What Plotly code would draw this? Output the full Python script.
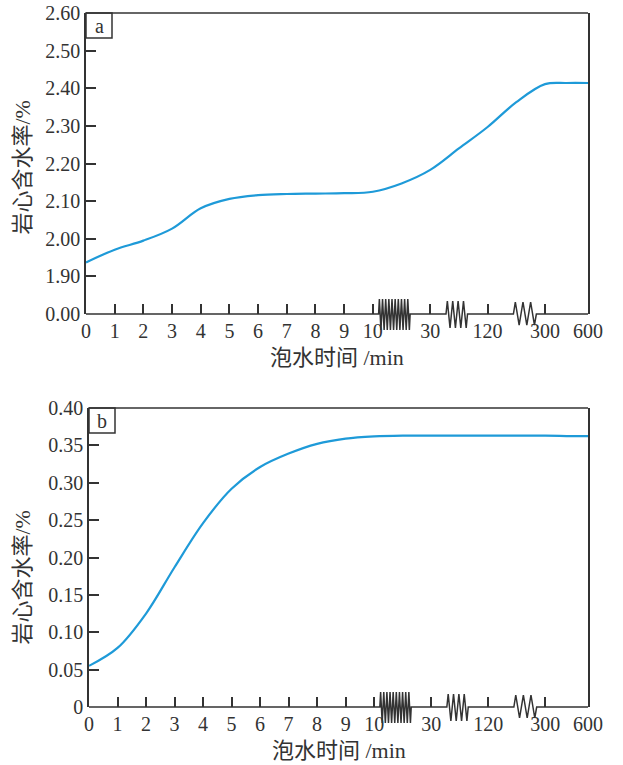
import numpy as np
import plotly.graph_objects as go

# ---------------- data ----------------
minutes = [0, 1, 2, 3, 4, 5, 6, 7, 8, 9, 10, 20, 30, 75, 120, 210, 300, 450, 600]
water_a = [1.937, 1.971, 1.995, 2.027, 2.081, 2.106, 2.116, 2.119, 2.120, 2.121, 2.125,
           2.147, 2.183, 2.240, 2.297, 2.363, 2.411, 2.414, 2.414]
water_b = [0.055, 0.079, 0.125, 0.187, 0.246, 0.292, 0.321, 0.339, 0.352, 0.359, 0.362,
           0.363, 0.363, 0.363, 0.363, 0.363, 0.363, 0.3625, 0.3625]

x_tick_minutes = [0, 1, 2, 3, 4, 5, 6, 7, 8, 9, 10, 30, 120, 300, 600]
x_tick_labels = ["0", "1", "2", "3", "4", "5", "6", "7", "8", "9", "10", "30", "120", "300", "600"]
a_tick_values = [0.00, 1.90, 2.00, 2.10, 2.20, 2.30, 2.40, 2.50, 2.60]
a_tick_labels = ["0.00", "1.90", "2.00", "2.10", "2.20", "2.30", "2.40", "2.50", "2.60"]
b_tick_values = [0, 0.05, 0.10, 0.15, 0.20, 0.25, 0.30, 0.35, 0.40]
b_tick_labels = ["0", "0.05", "0.10", "0.15", "0.20", "0.25", "0.30", "0.35", "0.40"]

# ---------------- broken-axis scales ----------------
X_ANCH_MIN = [0, 10, 30, 120, 300, 600]
X_ANCH_POS = [0, 10, 12, 14, 16, 17.5]


def xpos(m):
    return np.interp(m, X_ANCH_MIN, X_ANCH_POS)


def ypos_a(v):
    return np.interp(v, [0.0, 1.90, 2.60], [0, 1, 8])


W, H = 623, 765
LINE = "#333333"
TXT = "#333333"
BLUE = "#1e9ad8"
SERIF = "Liberation Serif, Noto Sans CJK SC"

dom_a = dict(x=[86 / W, 588 / W], y=[1 - 314 / H, 1 - 13 / H])
dom_b = dict(x=[89 / W, 588 / W], y=[1 - 707 / H, 1 - 408 / H])

fig = go.Figure()
fig.add_trace(go.Scatter(x=xpos(minutes), y=ypos_a(water_a), mode="lines",
                         line=dict(color=BLUE, width=2.2, shape="spline", smoothing=1.0),
                         xaxis="x", yaxis="y", showlegend=False, hoverinfo="skip"))
fig.add_trace(go.Scatter(x=xpos(minutes), y=water_b, mode="lines",
                         line=dict(color=BLUE, width=2.2, shape="spline", smoothing=1.0),
                         xaxis="x2", yaxis="y2", showlegend=False, hoverinfo="skip"))

xaxis_common = dict(range=[0, 17.5], tickvals=list(xpos(x_tick_minutes)), ticktext=x_tick_labels,
                    ticks="inside", ticklen=10, tickwidth=1.5, tickcolor=LINE, automargin=False,
                    showline=False, showgrid=False, zeroline=False, fixedrange=True,
                    tickfont=dict(family=SERIF, size=20, color=TXT), ticklabelstandoff=3)
yaxis_common = dict(ticks="inside", ticklen=10, tickwidth=1.5, tickcolor=LINE, automargin=False,
                    showline=True, linecolor=LINE, linewidth=1.5, mirror=True,
                    showgrid=False, zeroline=False, fixedrange=True,
                    tickfont=dict(family=SERIF, size=20, color=TXT))

fig.update_layout(
    width=W, height=H, margin=dict(l=0, r=0, t=0, b=0, pad=0, autoexpand=False),
    paper_bgcolor="white", plot_bgcolor="white",
    xaxis=dict(domain=dom_a["x"], anchor="y", **xaxis_common),
    yaxis=dict(domain=dom_a["y"], anchor="x", range=[0, 8],
               tickvals=list(ypos_a(a_tick_values)), ticktext=a_tick_labels, **yaxis_common),
    xaxis2=dict(domain=dom_b["x"], anchor="y2", **xaxis_common),
    yaxis2=dict(domain=dom_b["y"], anchor="x2", range=[0, 0.40],
                tickvals=b_tick_values, ticktext=b_tick_labels, **yaxis_common),
)

# ---------------- axis decorations (broken x axis, frame, panel tags) ----------------
BREAKS = [(10.2, 11.3, 10, 15, 16), (12.55, 13.3, 4, 13, 14), (14.9, 15.7, 3, 12, 11)]


def bottom_path(dom):
    x0, x1 = dom["x"]
    yb = dom["y"][0]

    def P(pos, off_px=0.0):
        return x0 + pos / 17.5 * (x1 - x0), yb - off_px / H

    pts = [P(0)]
    for s, e, n, up, dn in BREAKS:
        pts.append(P(s))
        k = 2 * n
        for i in range(k):
            t = s + (e - s) * (i + 0.5) / k
            pts.append(P(t, -up if i % 2 == 0 else dn))
        pts.append(P(e))
    pts.append(P(17.5))
    return "M " + " L ".join(f"{x:.5f},{y:.5f}" for x, y in pts)


shapes = []
annotations = []
for dom, tag in ((dom_a, "a"), (dom_b, "b")):
    shapes.append(dict(type="path", xref="paper", yref="paper", path=bottom_path(dom),
                       line=dict(color=LINE, width=1.5)))
    shapes.append(dict(type="line", xref="paper", yref="paper",
                       x0=dom["x"][0], x1=dom["x"][1], y0=dom["y"][1], y1=dom["y"][1],
                       line=dict(color=LINE, width=1.5)))
    shapes.append(dict(type="rect", xref="paper", yref="paper",
                       x0=dom["x"][0], x1=dom["x"][0] + 26 / W,
                       y0=dom["y"][1] - 25 / H, y1=dom["y"][1],
                       line=dict(color=LINE, width=1.5), fillcolor="rgba(0,0,0,0)"))
    annotations.append(dict(text=tag, xref="paper", yref="paper",
                            x=dom["x"][0] + 13 / W, y=dom["y"][1] - 12.5 / H,
                            xanchor="center", yanchor="middle",
                            showarrow=False, font=dict(family=SERIF, size=20, color=TXT)))
    yc = (dom["y"][0] + dom["y"][1]) / 2
    annotations.append(dict(text="岩心含水率/%", xref="paper", yref="paper",
                            x=22 / W, y=yc + (-4 if tag == "a" else -20) / H, textangle=-90,
                            xanchor="center", yanchor="middle",
                            showarrow=False, font=dict(family=SERIF, size=22, color=TXT)))
    annotations.append(dict(text="泡水时间 /min", xref="paper", yref="paper",
                            x=(dom["x"][0] + dom["x"][1]) / 2, y=dom["y"][0] - 43 / H,
                            xanchor="center", yanchor="middle",
                            showarrow=False, font=dict(family=SERIF, size=22, color=TXT)))

fig.update_layout(shapes=shapes, annotations=annotations)
fig.write_html("out.html", config={"displayModeBar": False},
               post_script="document.body.style.margin='0';")
